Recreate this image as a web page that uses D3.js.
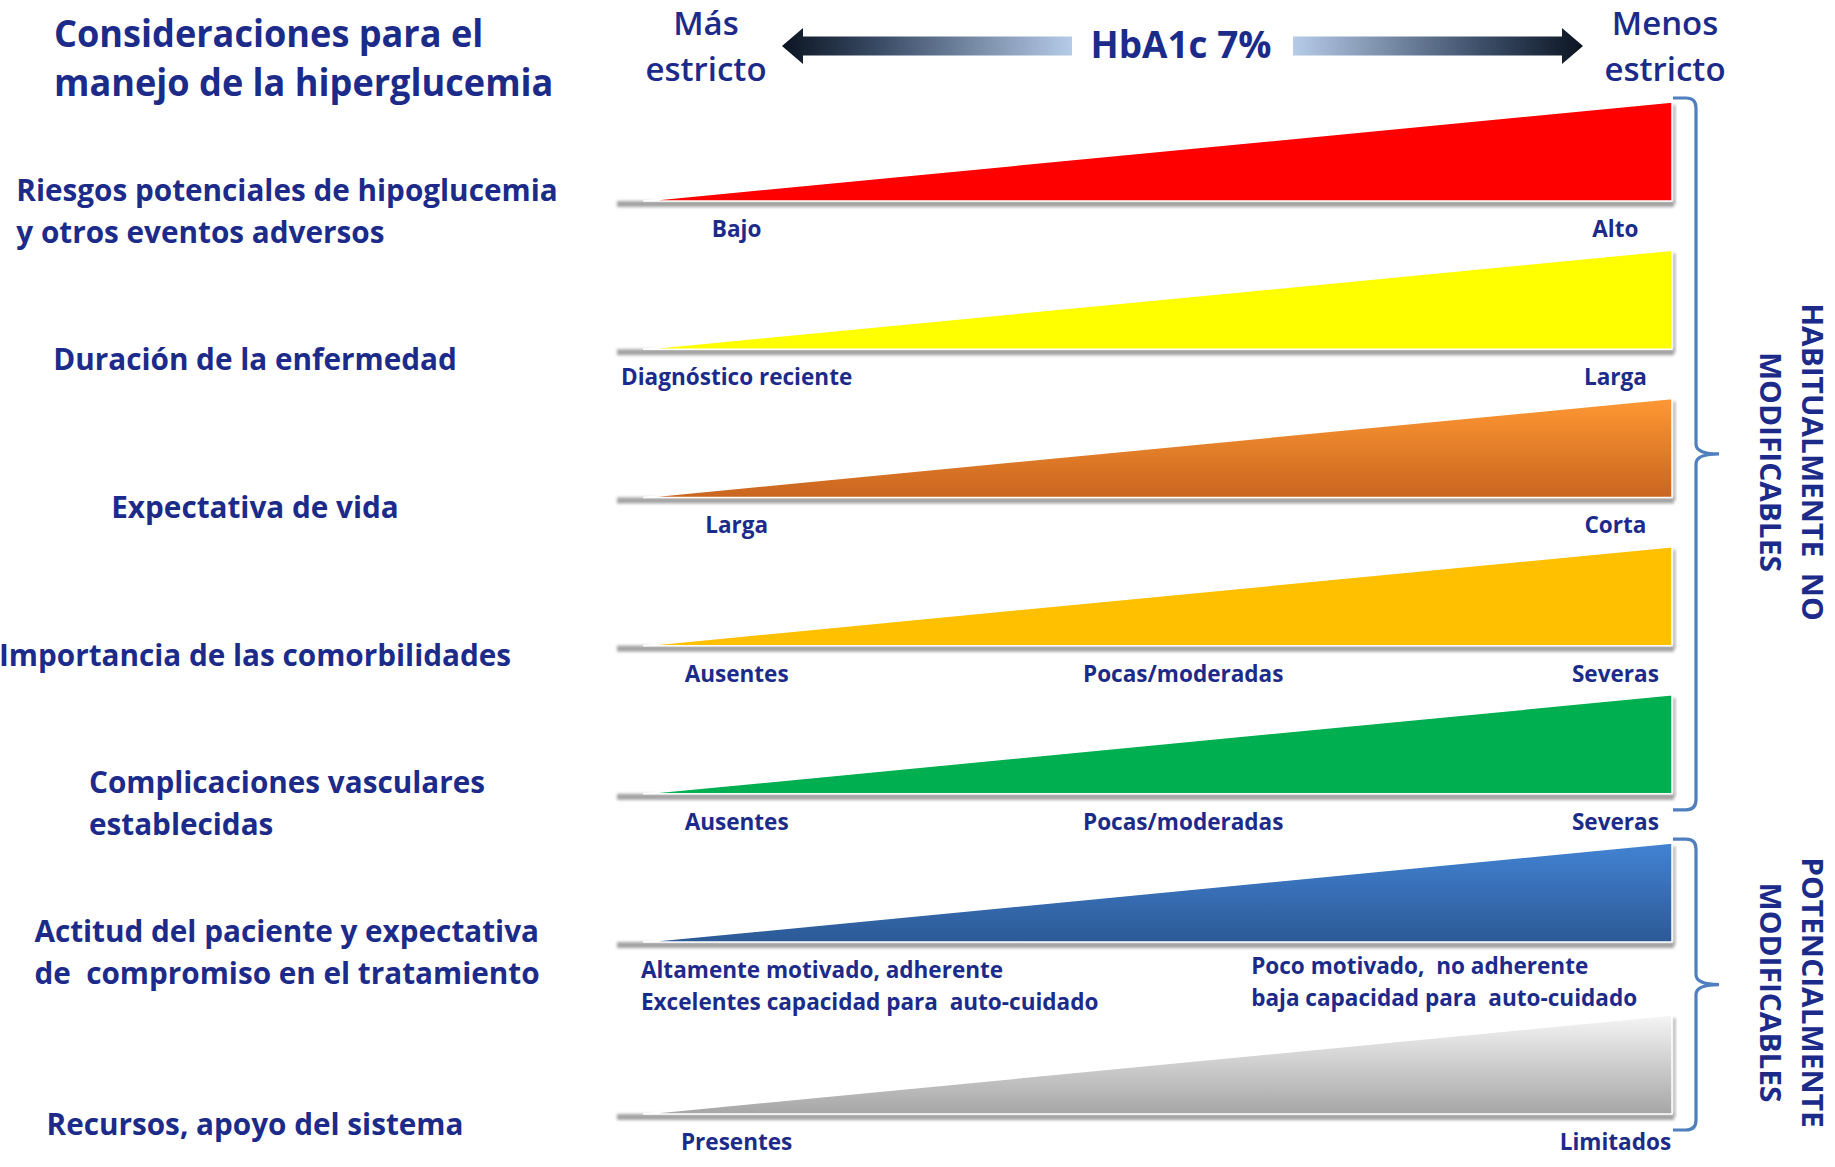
<!DOCTYPE html>
<html>
<head>
<meta charset="utf-8">
<script src="https://cdn.jsdelivr.net/npm/d3@7"></script>
<style>
  body { margin: 0; background: #ffffff; }
  svg { display: block; }
  text { font-family: "Open Sans", "Noto Sans", sans-serif; font-weight: 700; fill: #1c2b8a; white-space: pre; }
</style>
</head>
<body>
<svg id="chart" width="1835" height="1167"></svg>
<script>
// ---- content ----
const titleLines = ["Consideraciones para el", "manejo de la hiperglucemia"];
const headerLeft = ["Más", "estricto"];
const headerRight = ["Menos", "estricto"];
const headerCenter = "HbA1c 7%";

const factors = [
  ["Riesgos potenciales de hipoglucemia", "y otros eventos adversos"],
  ["Duración de la enfermedad"],
  ["Expectativa de vida"],
  ["Importancia de las comorbilidades"],
  ["Complicaciones vasculares", "establecidas"],
  ["Actitud del paciente y expectativa", "de  compromiso en el tratamiento"],
  ["Recursos, apoyo del sistema"]
];
const lowLabels = [
  ["Bajo"], ["Diagnóstico reciente"], ["Larga"], ["Ausentes"], ["Ausentes"],
  ["Altamente motivado, adherente", "Excelentes capacidad para  auto-cuidado"],
  ["Presentes"]
];
const midLabels = [null, null, null, ["Pocas/moderadas"], ["Pocas/moderadas"], null, null];
const highLabels = [
  ["Alto"], ["Larga"], ["Corta"], ["Severas"], ["Severas"],
  ["Poco motivado,  no adherente", "baja capacidad para  auto-cuidado"],
  ["Limitados"]
];
// each wedge grows from 0 (strict target) to 1 (lenient target)
const ramp = [0, 1];
const groupNames = [["HABITUALMENTE  NO", "MODIFICABLES"], ["POTENCIALMENTE", "MODIFICABLES"]];
const groupRows = [[0, 4], [5, 6]];

// wedge fills: [top, bottom]
const palette = [
  ["#ff0000", "#ff0000"],
  ["#ffff00", "#ffff00"],
  ["#ff9833", "#c9651f"],
  ["#ffc000", "#ffc000"],
  ["#00b050", "#00b050"],
  ["#4283d3", "#2c5996"],
  ["#f5f5f5", "#a6a6a6"]
];

// ---- layout ----
const svg = d3.select("#chart");
const defs = svg.append("defs");

// squeeze or stretch a text run by a factor of its natural length
function fitText(sel, k) {
  sel.each(function () {
    const n = this.getComputedTextLength();
    d3.select(this).attr("textLength", n * (k || 1)).attr("lengthAdjust", "spacingAndGlyphs");
  });
  return sel;
}

const x = d3.scaleLinear().domain([0, 1]).range([643, 1672]);
const h = d3.scaleLinear().domain([0, 1]).range([0, 99]);

// rows with two-line captions get a little more room below them
const rowUnits = [];
let acc = 0;
factors.forEach((f, i) => { rowUnits.push(acc); acc += 1 + (lowLabels[i].length > 1 ? 0.16 : 0); });
const y = d3.scaleLinear().domain([0, rowUnits[rowUnits.length - 1]]).range([201, 1114]);

// filters
defs.append("filter").attr("id", "soft").attr("x", "-10%").attr("y", "-200%").attr("width", "120%").attr("height", "500%")
  .append("feGaussianBlur").attr("stdDeviation", 1.8);

palette.forEach((c, i) => {
  const g = defs.append("linearGradient").attr("id", "fill" + i)
    .attr("x1", 0).attr("y1", 0).attr("x2", 0).attr("y2", 1);
  g.append("stop").attr("offset", "0%").attr("stop-color", c[0]);
  g.append("stop").attr("offset", "100%").attr("stop-color", c[1]);
});

// ---- title ----
svg.append("g").selectAll("text").data(titleLines).join("text")
  .attr("x", 54).attr("y", (d, i) => 47 + i * 49)
  .style("font-size", "38px")
  .text(d => d)
  .call(fitText, 0.95);

// ---- header arrow ----
const arrowGrad = (id, x1, x2) => {
  const g = defs.append("linearGradient").attr("id", id).attr("gradientUnits", "userSpaceOnUse")
    .attr("x1", x1).attr("y1", 0).attr("x2", x2).attr("y2", 0);
  g.append("stop").attr("offset", "0%").attr("stop-color", "#0b1422");
  g.append("stop").attr("offset", "35%").attr("stop-color", "#3c4e68");
  g.append("stop").attr("offset", "100%").attr("stop-color", "#b6cbe8");
};
arrowGrad("arrowL", 782, 1072);
arrowGrad("arrowR", 1583, 1293);
const ay = 46;
const arrowL = [[782, ay], [803, ay - 18], [803, ay - 9.5], [1072, ay - 9.5], [1072, ay + 9.5], [803, ay + 9.5], [803, ay + 18]];
const arrowR = arrowL.map(p => [2365 - p[0], p[1]]);
svg.append("polygon").attr("points", arrowL.join(" ")).attr("fill", "url(#arrowL)");
svg.append("polygon").attr("points", arrowR.join(" ")).attr("fill", "url(#arrowR)");

svg.append("text").attr("x", 1181).attr("y", 58).attr("text-anchor", "middle")
  .style("font-size", "38px").text(headerCenter).call(fitText, 0.97);

[[headerLeft, 706], [headerRight, 1665]].forEach(([lines, cx]) => {
  svg.append("g").selectAll("text").data(lines).join("text")
    .attr("x", cx).attr("y", (d, i) => 35 + i * 46).attr("text-anchor", "middle")
    .style("font-size", "32px").style("font-weight", 600)
    .text(d => d).call(fitText, 1.03);
});

// ---- wedges ----
const wedge = d3.area().x(d => x(d)).y0(0).y1(d => -h(d));

const rows = svg.append("g").selectAll("g.row").data(factors).join("g")
  .attr("class", "row")
  .attr("transform", (d, i) => `translate(0,${y(rowUnits[i])})`);

// ground shadow under each wedge
rows.append("rect")
  .attr("x", x(0) - 26).attr("y", 0).attr("width", x(1) - x(0) + 28).attr("height", 6)
  .attr("fill", "#7a7a7a").attr("opacity", 0.7).attr("filter", "url(#soft)");
// side shadow on the tall end
rows.append("rect")
  .attr("x", x(1)).attr("y", -h(1) + 3).attr("width", 4).attr("height", h(1))
  .attr("fill", "#9a9a9a").attr("opacity", 0.6).attr("filter", "url(#soft)");

rows.append("path")
  .attr("d", wedge(ramp))
  .attr("fill", (d, i) => `url(#fill${i})`)
  .attr("stroke", "#ffffff").attr("stroke-width", 1.5).attr("stroke-linejoin", "miter");

// ---- captions under wedges ----
const capSize = 23, capLead = 32, capDrop = 36, capK = 0.98;
rows.each(function (d, i) {
  const g = d3.select(this);
  const low = lowLabels[i], high = highLabels[i], mid = midLabels[i];
  const multi = low.length > 1;
  g.append("g").selectAll("text").data(low).join("text")
    .attr("x", multi ? x(-0.002) : x(0.091))
    .attr("text-anchor", multi ? "start" : "middle")
    .attr("y", (t, j) => capDrop + j * capLead)
    .style("font-size", capSize + "px").text(t => t).call(fitText, capK);
  if (mid) {
    g.append("text").attr("x", x(0.525)).attr("y", capDrop).attr("text-anchor", "middle")
      .style("font-size", capSize + "px").text(mid[0]).call(fitText, capK);
  }
  g.append("g").selectAll("text").data(high).join("text")
    .attr("x", multi ? x(0.591) : x(0.945))
    .attr("text-anchor", multi ? "start" : "middle")
    .attr("y", (t, j) => capDrop - (multi ? 4 : 0) + j * capLead)
    .style("font-size", capSize + "px").text(t => t).call(fitText, capK);
});

// ---- factor names on the left ----
const nameSize = 30, nameLead = 42, nameCap = 21;
factors.forEach((lines, i) => {
  const base = y(rowUnits[i]);
  const first = base + 10 - (lines.length - 1) * nameLead / 2 + nameCap / 2;
  const g = svg.append("g");
  const t = g.selectAll("text").data(lines).join("text")
    .attr("y", (d, j) => first + j * nameLead)
    .style("font-size", nameSize + "px").text(d => d).call(fitText, 0.99);
  if (lines.length > 1) {
    const w = d3.max(t.nodes(), n => +n.getAttribute("textLength"));
    t.attr("x", 287 - w / 2);
  } else {
    t.attr("x", 255).attr("text-anchor", "middle");
  }
});

// ---- braces grouping the factors ----
const braceX = 1696, hookX = 1673, tipX = 1719, r = 10;
groupRows.forEach(([a, b], gi) => {
  const top = y(rowUnits[a]) - h(1) - 4;
  const bottom = y(rowUnits[b]) + 16;
  const mid = (top + bottom) / 2;
  const p = d3.path();
  p.moveTo(hookX, top);
  p.lineTo(braceX - r, top);
  p.quadraticCurveTo(braceX, top, braceX, top + r);
  p.lineTo(braceX, mid - r);
  p.quadraticCurveTo(braceX, mid, tipX, mid);
  p.quadraticCurveTo(braceX, mid, braceX, mid + r);
  p.lineTo(braceX, bottom - r);
  p.quadraticCurveTo(braceX, bottom, braceX - r, bottom);
  p.lineTo(hookX, bottom);
  svg.append("path").attr("d", p.toString())
    .attr("fill", "none").attr("stroke", "#4f7fbe").attr("stroke-width", 3.2);

  const lbl = svg.append("g").attr("transform", `translate(1788,${mid + 8}) rotate(90)`);
  lbl.selectAll("text").data(groupNames[gi]).join("text")
    .attr("x", 0).attr("y", (d, j) => j === 0 ? -14 : 28)
    .attr("text-anchor", "middle")
    .style("font-size", "29px")
    .text(d => d).call(fitText, 1.03);
});
</script>
</body>
</html>
